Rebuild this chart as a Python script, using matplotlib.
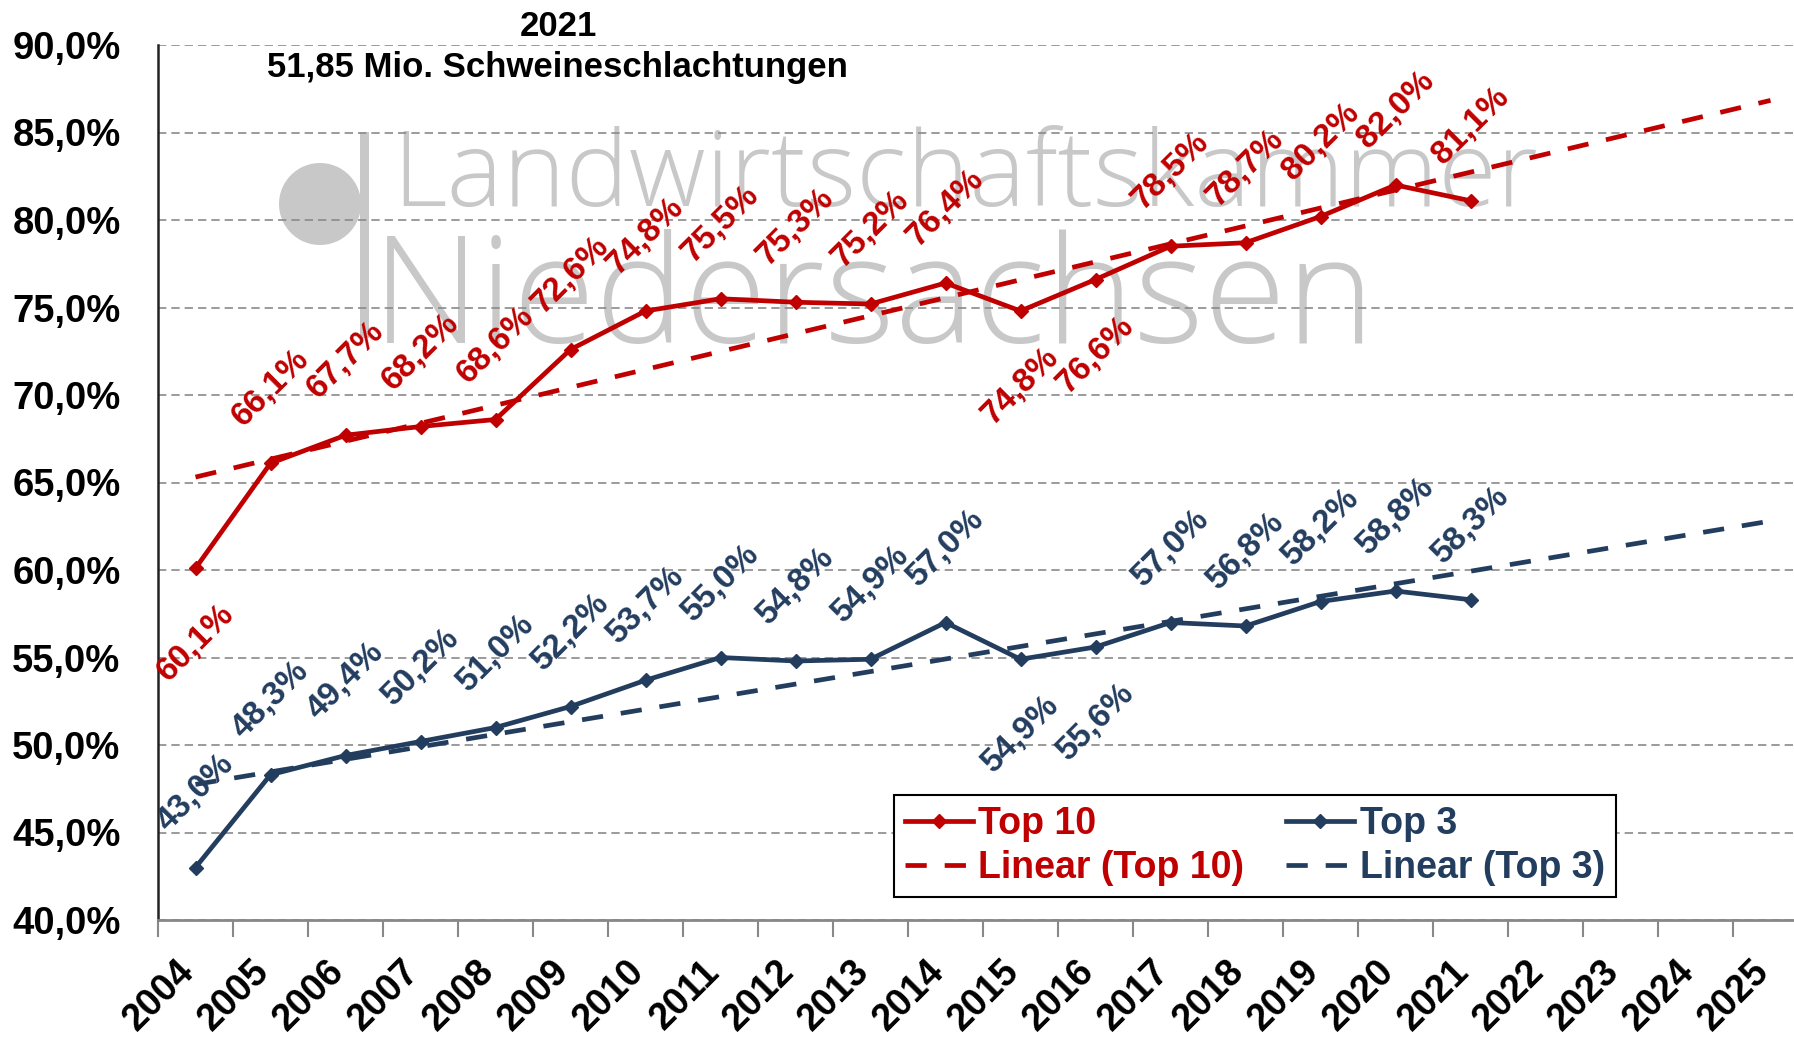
import numpy as np
import matplotlib
matplotlib.use('Agg')
import matplotlib.pyplot as plt
from matplotlib.patches import Ellipse, Rectangle
from matplotlib.ticker import FixedLocator, FuncFormatter
import matplotlib.transforms as mtransforms

# ---------------- data ----------------
years = [str(y) for y in range(2004, 2026)]
data_years = years[:18]
top10 = [60.1, 66.1, 67.7, 68.2, 68.6, 72.6, 74.8, 75.5, 75.3, 75.2, 76.4,
         74.8, 76.6, 78.5, 78.7, 80.2, 82.0, 81.1]
top3 = [43.0, 48.3, 49.4, 50.2, 51.0, 52.2, 53.7, 55.0, 54.8, 54.9, 57.0,
        54.9, 55.6, 57.0, 56.8, 58.2, 58.8, 58.3]
below_top10 = ['2004', '2015', '2016']
below_top3 = ['2015', '2016']
y_ticks = [40, 45, 50, 55, 60, 65, 70, 75, 80, 85, 90]
title_lines = ['2021', '51,85 Mio. Schweineschlachtungen']
series_names = ['Top 10', 'Linear (Top 10)', 'Top 3', 'Linear (Top 3)']
watermark = ['Landwirtschaftskammer', 'Niedersachsen']

RED = '#C00000'
NAVY = '#233D5F'
GRID = '#8a8a8a'

plt.rcParams['font.family'] = ['Liberation Sans', 'DejaVu Sans']

W, H = 1794, 1037
fig = plt.figure(figsize=(W / 100, H / 100), dpi=100)
fig.patch.set_facecolor('white')

ax_left = 158 / W
ax_bottom = 1 - 920 / H
ax_top = 1 - 45 / H
ax = fig.add_axes([ax_left, ax_bottom, 1 - ax_left, ax_top - ax_bottom])
ax.set_facecolor('none')

# ---------------- watermark ----------------
wm_color = '#c8c8c8'
fig.patches.append(Ellipse((320 / W, 1 - 204 / H), 82 / W, 82 / H,
                           transform=fig.transFigure, color=wm_color,
                           zorder=-2, lw=0))
fig.patches.append(Rectangle((360 / W, 1 - 338 / H), 9 / W, 206 / H,
                             transform=fig.transFigure, color=wm_color,
                             zorder=-2, lw=0))
fig.text(392 / W, 1 - 206 / H, watermark[0], fontsize=76.5, family='Open Sans',
         fontweight='light', color=wm_color, ha='left', va='baseline', zorder=-2)
fig.text(372 / W, 1 - 343 / H, watermark[1], fontsize=108, family='Open Sans',
         fontweight='light', color=wm_color, ha='left', va='baseline', zorder=-2)

# ---------------- axes ----------------
pos = np.arange(len(years))
n = len(data_years)
ax.set_xlim(-0.5, 21.5 - 14 / 75)
ax.set_ylim(40, 90)

ax.yaxis.set_major_locator(FixedLocator(y_ticks))
ax.yaxis.set_major_formatter(FuncFormatter(lambda v, p: f'{v:.1f}'.replace('.', ',') + '%'))
ax.tick_params(axis='y', length=0, pad=27, labelsize=27.5)
for lab in ax.get_yticklabels():
    lab.set_fontweight('bold')

ax.set_xticks(pos)
ax.set_xticklabels(years, fontsize=27, fontweight='bold', rotation=45,
                   ha='right', va='top')
ax.set_xticks(np.arange(-0.5, 21.5, 1.0), minor=True)
ax.tick_params(axis='x', which='major', length=0, pad=24)
ax.tick_params(axis='x', which='minor', length=12, width=1.5, color='#888888',
               direction='out')
offset = mtransforms.ScaledTranslation(6 / 100, 0, fig.dpi_scale_trans)
for lab in ax.get_xticklabels():
    lab.set_transform(lab.get_transform() + offset)

ax.grid(axis='y', color=GRID, linestyle=(0, (5, 3)), linewidth=1.2)
ax.set_axisbelow(True)
for s in ['top', 'right']:
    ax.spines[s].set_visible(False)
ax.spines['left'].set_color('#222222')
ax.spines['left'].set_linewidth(1.8)
ax.spines['bottom'].set_color('#888888')
ax.spines['bottom'].set_linewidth(2.0)

# ---------------- series ----------------
xd = pos[:n]
l10, = ax.plot(xd, top10, color=RED, lw=3.4, marker='D', markersize=7.5, zorder=4)
l3, = ax.plot(xd, top3, color=NAVY, lw=3.4, marker='D', markersize=7.5, zorder=4)

xt = np.array([0, len(years) - 1])
c10 = np.polyfit(xd, top10, 1)
c3 = np.polyfit(xd, top3, 1)
t10, = ax.plot(xt, np.polyval(c10, xt), color=RED, lw=3.4,
               linestyle=(0, (4.5, 3.8)), zorder=5)
t3, = ax.plot(xt, np.polyval(c3, xt), color=NAVY, lw=3.4,
              linestyle=(0, (4.5, 3.8)), zorder=5)

def fmt(v):
    return f'{v:.1f}'.replace('.', ',') + '%'

for i, (yr, v) in enumerate(zip(data_years, top10)):
    dy = -54 if yr in below_top10 else 54
    ax.annotate(fmt(v), (i, v), xytext=(0, dy), textcoords='offset points',
                ha='center', va='center', rotation=45, color=RED,
                fontsize=24, fontweight='bold', zorder=6)
for i, (yr, v) in enumerate(zip(data_years, top3)):
    dy = -54 if yr in below_top3 else 54
    ax.annotate(fmt(v), (i, v), xytext=(0, dy), textcoords='offset points',
                ha='center', va='center', rotation=45, color=NAVY,
                fontsize=24, fontweight='bold', zorder=6)

# ---------------- legend ----------------
leg = ax.legend([l10, t10, l3, t3], series_names, ncol=2, loc='upper left',
                bbox_to_anchor=(894 / W, 1 - 795 / H),
                bbox_transform=fig.transFigure, borderaxespad=0,
                frameon=True, fancybox=False, edgecolor='black', framealpha=1,
                prop=dict(weight='bold', size=27), handlelength=1.8,
                handletextpad=0.15, columnspacing=1.12, labelspacing=0.2,
                borderpad=0.3)
leg.get_frame().set_linewidth(1.5)
leg.set_zorder(10)
for t, c in zip(leg.get_texts(), [RED, RED, NAVY, NAVY]):
    t.set_color(c)

# ---------------- title ----------------
fig.text(558 / W, 1 - 27 / H, title_lines[0], ha='center', va='center',
         fontsize=25, fontweight='bold', color='black')
fig.text(557 / W, 1 - 67 / H, title_lines[1], ha='center', va='center',
         fontsize=25, fontweight='bold', color='black')

fig.savefig('out.png', dpi=100)
